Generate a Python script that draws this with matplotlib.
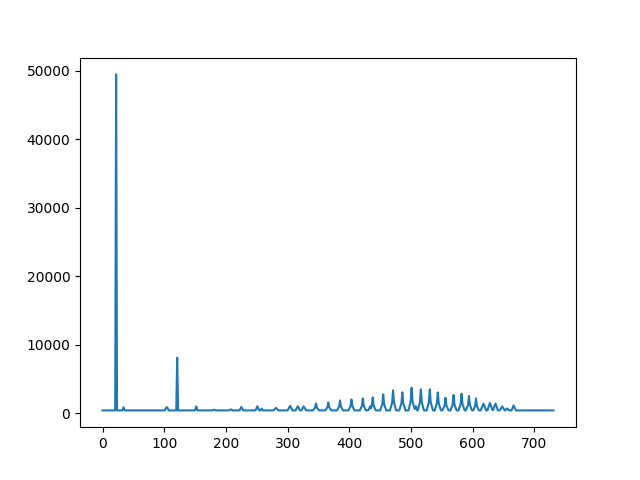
import matplotlib
matplotlib.use("Agg")
import matplotlib.pyplot as plt

# vertices of the trace (baseline ~400)
X = [0, 20.5, 22, 23.5, 32, 34, 36,
     101, 103, 104, 105, 107, 119.5, 121, 122.5,
     150, 152, 154, 178, 181, 184, 205, 208, 211, 222, 225, 228,
     248, 251, 254, 256, 258, 260, 277, 281, 285,
     300, 304, 308, 313, 316.5, 320, 322.5, 326, 330,
     341, 344.5, 346, 347.5, 351,
     361, 364.5, 366, 367.5, 371,
     380, 383.5, 385, 386.5, 390,
     398.5, 402, 403.5, 405, 408.5,
     417, 420.5, 422, 423.5, 427,
     431, 434, 435, 436.5, 438, 439.5, 443,
     450, 453.5, 455, 456.5, 460,
     466, 469.5, 471, 472.5, 476,
     481, 484.5, 486, 487.5, 491,
     496, 499.5, 501, 502.5, 506, 508, 510,
     511, 514.5, 516, 517.5, 521,
     525.5, 529, 530.5, 532, 535.5,
     538.5, 542, 543.5, 545, 548.5,
     551, 554.5, 556, 557.5, 561,
     564, 567.5, 569, 570.5, 574,
     577, 580.5, 582, 583.5, 587,
     589, 592.5, 594, 595.5, 599,
     601, 604, 605.5, 607, 610,
     613, 617.5, 622, 624, 628, 632,
     633, 637, 641, 644, 648, 652, 653, 656, 659,
     663, 666.5, 670, 731]
Y = [400, 400, 49500, 400, 400, 850, 400,
     400, 800, 750, 850, 400, 400, 8100, 400,
     400, 1000, 400, 400, 500, 400, 400, 550, 400, 400, 900, 400,
     400, 1000, 400, 400, 650, 400, 400, 780, 400,
     400, 1070, 400, 400, 1000, 400, 400, 1000, 400,
     400, 800, 1420, 800, 400,
     400, 850, 1570, 850, 400,
     400, 950, 1860, 950, 400,
     400, 1000, 2000, 1000, 400,
     400, 1050, 2150, 1050, 400,
     450, 1000, 700, 1100, 2300, 1100, 400,
     400, 1300, 2740, 1300, 400,
     400, 1550, 3330, 1550, 400,
     400, 1450, 3050, 1450, 400,
     400, 1700, 3710, 1700, 600, 1000, 400,
     400, 1600, 3470, 1600, 400,
     400, 1600, 3470, 1600, 400,
     400, 1450, 3030, 1450, 400,
     400, 1100, 2240, 1100, 400,
     400, 1250, 2640, 1250, 400,
     400, 1350, 2830, 1350, 400,
     400, 1200, 2500, 1200, 400,
     400, 1050, 2150, 1050, 400,
     400, 1370, 400, 400, 1500, 450,
     450, 1400, 400, 400, 980, 400, 400, 700, 400,
     400, 1130, 400, 400]

fig, ax = plt.subplots(figsize=(6.4, 4.8), dpi=100)
ax.plot(X, Y)
fig.savefig("out.png")
